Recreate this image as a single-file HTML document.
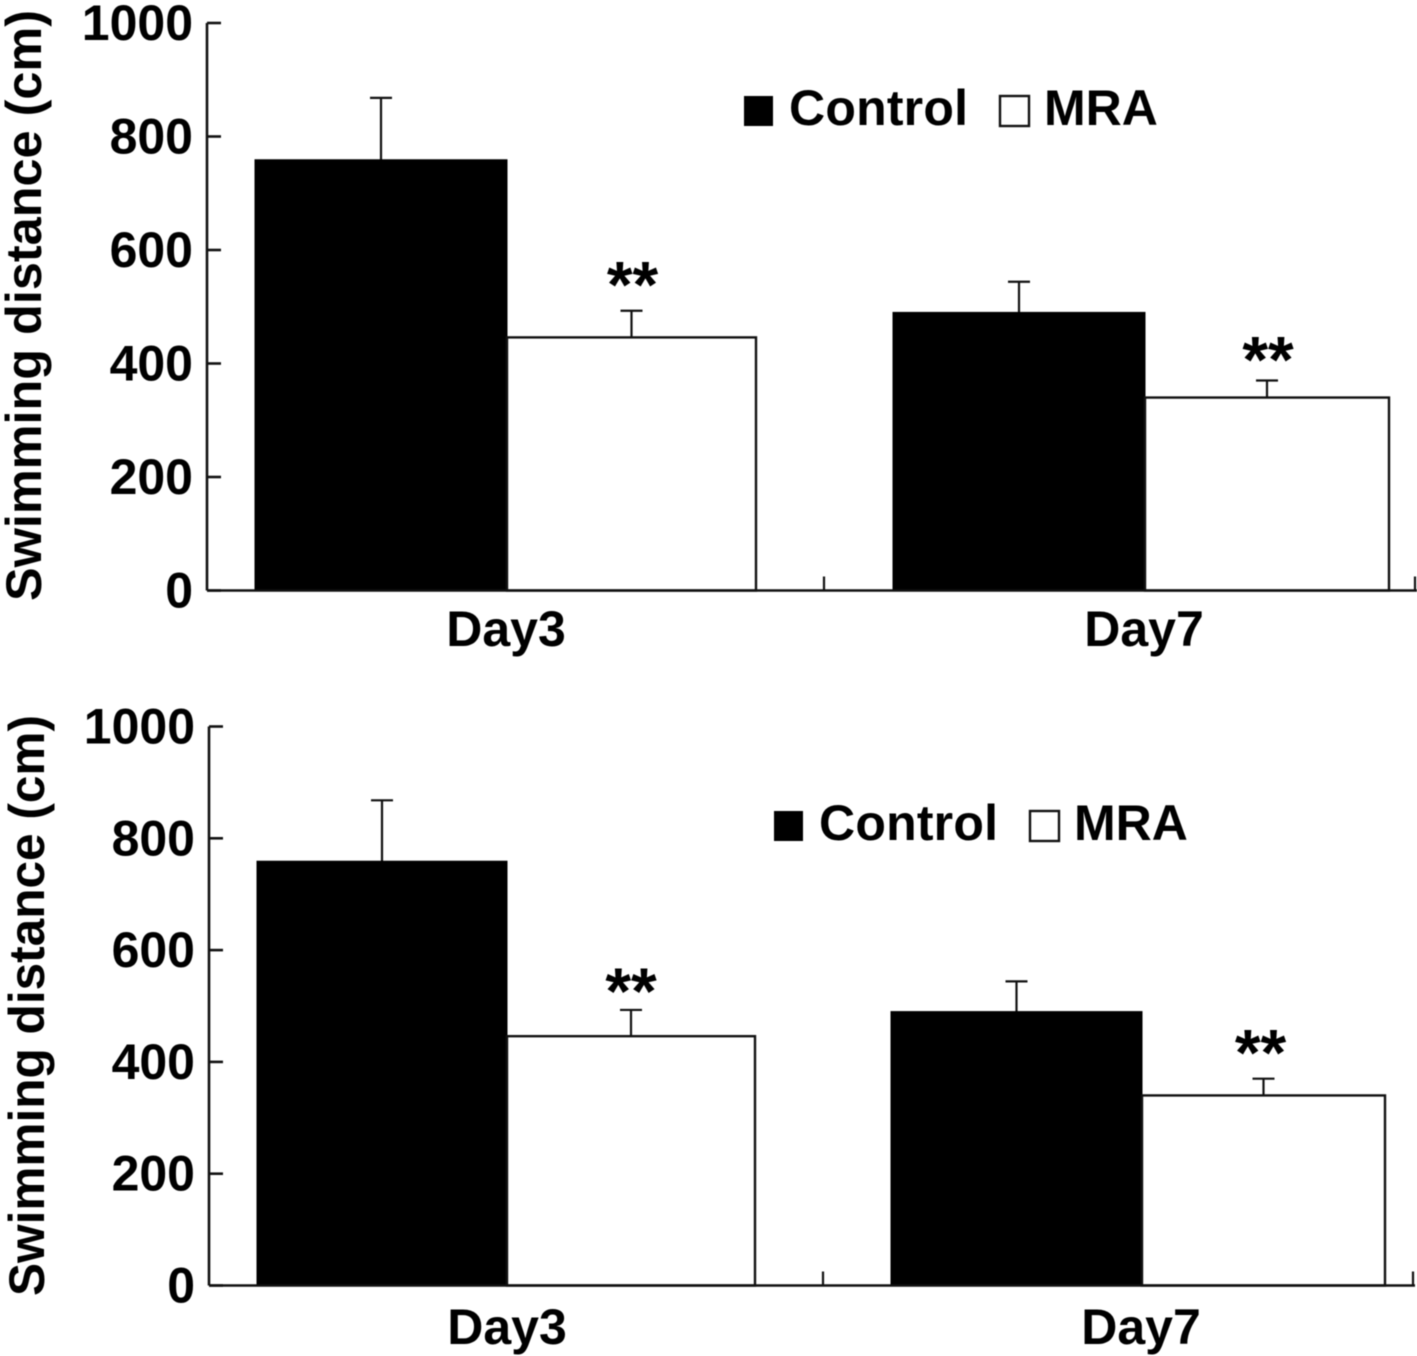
<!DOCTYPE html>
<html lang="en">
<head>
<meta charset="utf-8">
<title>Swimming distance charts</title>
<style>
  html, body { margin: 0; padding: 0; background: #fff; }
  svg { display: block; filter: blur(0.5px); }
  text { font-family: "Liberation Sans", sans-serif; font-weight: 700; font-size: 50px; fill: #000; }
</style>
</head>
<body>
<svg id="figure" xmlns="http://www.w3.org/2000/svg" width="1417" height="1356" viewBox="0 0 1417 1356"></svg>
<script>
// Chart data
const categories = ["Day3", "Day7"];
const seriesNames = ["Control", "MRA"];
const controlValuesTop = [759, 490];
const mraValuesTop = [446, 340];
const controlErrorTop = [868, 544];
const mraErrorTop = [493, 370];
const controlValuesBottom = [759, 490];
const mraValuesBottom = [446, 340];
const controlErrorBottom = [868, 544];
const mraErrorBottom = [493, 370];
const significance = ["**", "**"];
const yTicks = [0, 200, 400, 600, 800, 1000];
const yAxisTitle = "Swimming distance (cm)";

const svg = document.getElementById('figure');
const NS = 'http://www.w3.org/2000/svg';
function make(tag, attrs, parent) {
  const el = document.createElementNS(NS, tag);
  for (const k in attrs) el.setAttribute(k, attrs[k]);
  parent.appendChild(el);
  return el;
}

function drawChart(name, control, mra, controlErr, mraErr, L) {
  const g = make('g', {}, svg);
  
  
  const y = v => L.y0 - (v / 1000) * (L.y0 - L.y1000);
  const stroke = { stroke: '#111', 'stroke-width': 2.6, fill: 'none' };

  // y axis
  const yAxis = make('line', { x1: L.x0, x2: L.x0, y1: y(1000), y2: y(0), ...stroke }, g);
  
  
  yTicks.forEach(t => {
    const tick = make('line', { x1: L.x0, x2: L.x0 + 14, y1: y(t), y2: y(t), ...stroke }, g);
    
    
    const lab = make('text', { x: L.x0 - 14, y: y(t) + 17, 'text-anchor': 'end' }, g);
    lab.textContent = t;
    
    
  });

  // y title
  const title = make('text', { transform: 'translate(' + L.titleX + ',' + L.titleY + ') rotate(-90)', textLength: L.titleLen, lengthAdjust: 'spacingAndGlyphs' }, g);
  title.textContent = yAxisTitle;
  
  

  // bars + error bars
  categories.forEach((c, i) => {
    const b = L.bars[i];
    const groups = [
      { v: control[i], e: controlErr[i], x: b[0], w: b[1] - b[0], fill: '#000', key: 'control' },
      { v: mra[i], e: mraErr[i], x: b[1], w: b[2] - b[1], fill: '#fff', key: 'mra' }
    ];
    groups.forEach((s, si) => {
      const cx = s.x + s.w / 2;
      const errLine = make('line', { x1: cx, x2: cx, y1: y(s.v), y2: y(s.e), stroke: '#111', 'stroke-width': 2.2 }, g);
      
      
      const cap = make('line', { x1: cx - 11, x2: cx + 11, y1: y(s.e), y2: y(s.e), stroke: '#111', 'stroke-width': 2.2 }, g);
      
      
      const bar = make('rect', { x: s.x, y: y(s.v), width: s.w, height: y(0) - y(s.v), fill: s.fill, stroke: si ? '#111' : '#000', 'stroke-width': si ? 2.4 : 1 }, g);
      
      
      if (si === 1) {
        const star = make('text', { x: cx + 1 + L.starDx[i], y: y(s.e) - L.starGap[i], 'text-anchor': 'middle', style: 'font-size:66px' }, g);
        star.textContent = significance[i];
        
        
      }
    });
    const catLabel = make('text', { x: L.catX[i], y: L.catY, 'text-anchor': 'middle' }, g);
    catLabel.textContent = c;
    
    
  });

  // x axis
  const xAxis = make('line', { x1: L.x0, x2: L.xEnd, y1: y(0), y2: y(0), ...stroke }, g);
  
  
  L.xTicks.forEach(x => {
    const tick = make('line', { x1: x, x2: x, y1: y(0), y2: y(0) - 14, stroke: '#111', 'stroke-width': 2.2 }, g);
    
    
  });

  // legend
  const legendC = make('rect', { x: L.legend[0], y: L.legendY, width: 29, height: 30, fill: '#000' }, g);
  
  
  const textC = make('text', { x: L.legend[0] + 45, y: L.legendY + 29, textLength: 179, lengthAdjust: 'spacing' }, g);
  textC.textContent = seriesNames[0];
  
  
  const legendM = make('rect', { x: L.legend[1], y: L.legendY, width: 29, height: 30, fill: '#fff', stroke: '#111', 'stroke-width': 2.4 }, g);
  
  
  const textM = make('text', { x: L.legend[1] + 44, y: L.legendY + 29 }, g);
  textM.textContent = seriesNames[1];
  
  
}

drawChart('top-chart', controlValuesTop, mraValuesTop, controlErrorTop, mraErrorTop, {
  x0: 207, xEnd: 1417, y0: 590.5, y1000: 23,
  bars: [[255, 507, 756], [893, 1145, 1389]],
  xTicks: [824, 1415],
  catX: [506, 1144], catY: 646,
  titleX: 41, titleY: 601, titleLen: 591,
  legend: [744, 1000], legendY: 96,
  starDx: [0, 0], starGap: [3, -2]
});

drawChart('bottom-chart', controlValuesBottom, mraValuesBottom, controlErrorBottom, mraErrorBottom, {
  x0: 209, xEnd: 1415, y0: 1285.5, y1000: 726.5,
  bars: [[257, 507, 755], [891, 1142, 1385]],
  xTicks: [823, 1413],
  catX: [507, 1141], catY: 1344,
  titleX: 44, titleY: 1296, titleLen: 581,
  legend: [774, 1030], legendY: 811,
  starDx: [-1, -4], starGap: [-4, 3]
});
</script>
</body>
</html>
